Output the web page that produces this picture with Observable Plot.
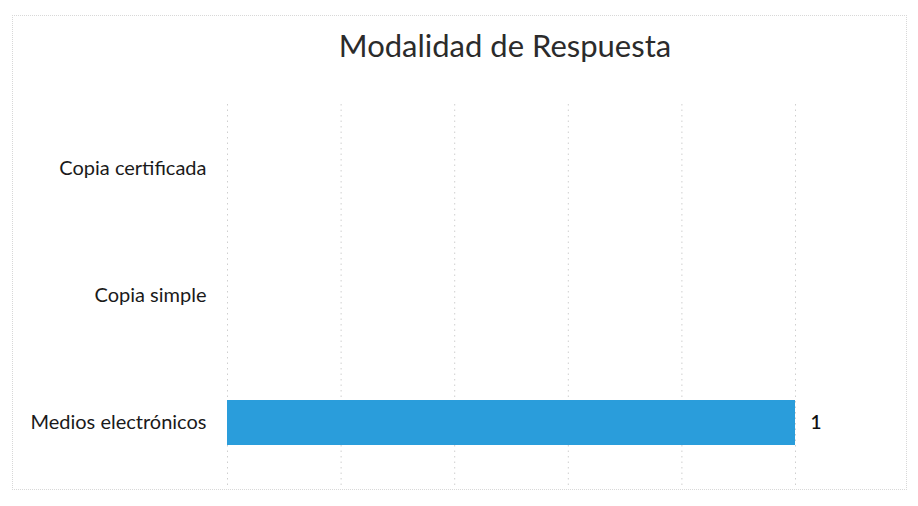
<!DOCTYPE html>
<html>
<head>
<meta charset="utf-8">
<script src="https://cdn.jsdelivr.net/npm/d3@7"></script>
<script src="https://cdn.jsdelivr.net/npm/@observablehq/plot@0.6"></script>
<style>
  html, body { margin: 0; padding: 0; background: #fff; }
  #frame { position: absolute; left: 12px; top: 15px; width: 895px; height: 475px;
           border: 1px dotted #d8d8d8; box-sizing: border-box; }
  #title { position: absolute; left: 0; top: 26px; width: 1010px; text-align: center;
           font-family: Lato, "Open Sans", sans-serif; font-size: 31px; color: #2b2b2b; }
  #chart { position: absolute; left: 0; top: 90px; }
</style>
</head>
<body>
<div id="frame"></div>
<div id="title">Modalidad de Respuesta</div>
<div id="chart"></div>
<script>
const categories = ["Copia certificada", "Copia simple", "Medios electrónicos"];
const values = [0, 0, 1];
const xTicks = [0, 0.2, 0.4, 0.6, 0.8, 1];

const data = categories.map((c, i) => ({category: c, value: values[i]}));
const shown = data.filter(d => d.value > 0);

const plot = Plot.plot({
  width: 918,
  height: 416,
  marginLeft: 227,
  marginRight: 123,
  marginTop: 14,
  marginBottom: 19,
  style: {fontFamily: "Lato, 'Open Sans', sans-serif", fontSize: "20px", color: "#1a1a1a", background: "transparent"},
  x: {domain: [0, 1], ticks: xTicks, axis: null},
  y: {domain: categories, paddingInner: 0.646, paddingOuter: 0.323, label: null, tickSize: 0, tickPadding: 21},
  marks: [
    Plot.gridX(xTicks, {stroke: "#cfcfcf", strokeOpacity: 1, strokeDasharray: "1.5,4"}),
    Plot.barX(shown, {x: "value", y: "category", fill: "#2a9ddb"}),
    Plot.text(shown, {x: "value", y: "category", text: d => String(d.value), dx: 15,
                      textAnchor: "start", fontSize: 19, fontWeight: 600, fill: "#111"}),
    Plot.axisY({tickSize: 0, tickPadding: 21, fontSize: 20})
  ]
});
document.getElementById("chart").appendChild(plot);
</script>
</body>
</html>
